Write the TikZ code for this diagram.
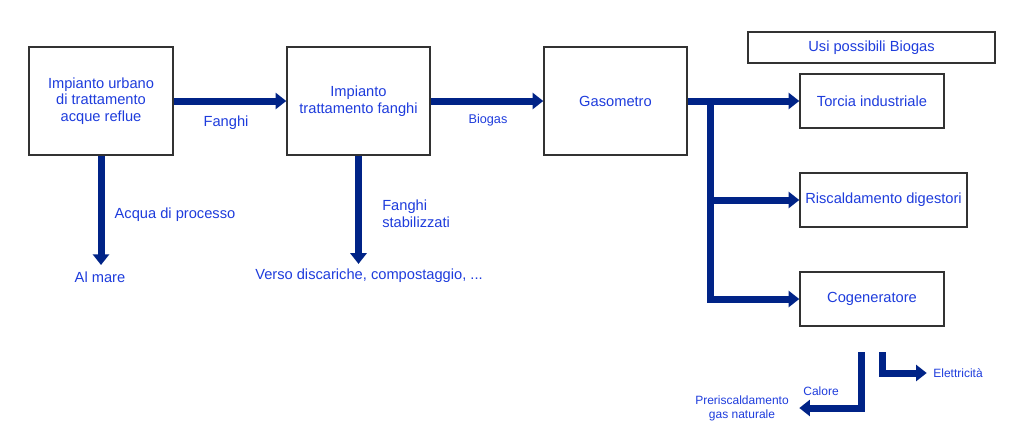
\documentclass[tikz,border=0pt]{standalone}
\usepackage{fontspec}
\setmainfont{Liberation Sans}
\usepackage{tikz}
\usetikzlibrary{arrows.meta}

\definecolor{txtblue}{RGB}{30,60,220}
\definecolor{flowblue}{RGB}{0,35,135}
\definecolor{boxgrey}{RGB}{50,50,50}

\begin{document}
\begin{tikzpicture}[x=0.75pt,y=0.75pt,yscale=-1,xscale=1,
  box/.style={draw=boxgrey, line width=1.1pt, align=center, text=txtblue, inner sep=0.75pt, font=\fontsize{11}{12.5}\selectfont},
  lbl/.style={text=txtblue, align=center, inner sep=0.75pt, font=\fontsize{11}{12.5}\selectfont},
  small/.style={lbl, font=\fontsize{9}{10.5}\selectfont},
  flow/.style={draw=flowblue, line width=5.25pt, -{Triangle[length=8pt,width=12pt]}}]
\useasboundingbox (0,0) rectangle (1024,436); %diagram is 1024 wide and 436 high

%Shape: Rectangle [wwtp]
\node (wwtp) at (101,101) [box, minimum width=108pt, minimum height=81pt] {Impianto urbano\\di trattamento\\acque reflue};
%Shape: Rectangle [sludge]
\node (sludge) at (358.5,101) [box, minimum width=107.25pt, minimum height=81pt] {Impianto\\trattamento fanghi};
%Shape: Rectangle [gaso]
\node (gaso) at (615.5,101) [box, minimum width=107.25pt, minimum height=81pt] {Gasometro};
%Shape: Rectangle [uses]
\node (uses) at (871.5,47.5) [box, minimum width=185.25pt, minimum height=23.25pt] {Usi possibili Biogas};
%Shape: Rectangle [torch]
\node (torch) at (872,101) [box, minimum width=108pt, minimum height=40.5pt] {Torcia industriale};
%Shape: Rectangle [digest]
\node (digest) at (883.5,200) [box, minimum width=125.25pt, minimum height=40.5pt] {Riscaldamento digestori};
%Shape: Rectangle [chp]
\node (chp) at (872,299) [box, minimum width=108pt, minimum height=40.5pt] {Cogeneratore};

% Text Node
\node (fanghi) at (226,123) [lbl] {Fanghi};
% Text Node
\node (biogas) at (488,120) [lbl, font=\fontsize{9.5}{11}\selectfont] {Biogas};
% Text Node
\node (acqua) at (175,215) [lbl] {Acqua di processo};
% Text Node
\node (mare) at (100,277) [lbl] {Al mare};
% Text Node
\node (stab) at (381,214) [lbl, anchor=west, align=left] {Fanghi\\stabilizzati};
% Text Node
\node (verso) at (369,276) [lbl] {Verso discariche, compostaggio, ...};
% Text Node
\node (calore) at (821,391) [small] {Calore};
% Text Node
\node (preheat) at (742,408) [small] {Preriscaldamento\\gas naturale};
% Text Node
\node (elec) at (958,373) [small] {Elettricità};

%Straight Lines
\draw[flow] (wwtp.east) -- (sludge.west);
\draw[flow] (sludge.east) -- (gaso.west);
\draw[flow, shorten >=4pt] (wwtp.south) -- (wwtp.south |- mare.north);
\draw[flow, shorten >=3pt] (sludge.south) -- (sludge.south |- verso.north);

%Biogas distribution
\coordinate (split) at (710.5,101);
\draw[flow] (gaso.east) -- (torch.west);
\draw[flow] (split) |- (chp.west);
\draw[flow] (split |- digest.west) -- (digest.west);

%Cogenerator outputs
\coordinate (heatout) at (861,352);
\coordinate (elecout) at (882.5,352);
\draw[flow] (heatout) |- ([xshift=7pt]preheat.east);
\draw[flow] (elecout) |- ([xshift=-4pt]elec.west);

\end{tikzpicture}
\end{document}
